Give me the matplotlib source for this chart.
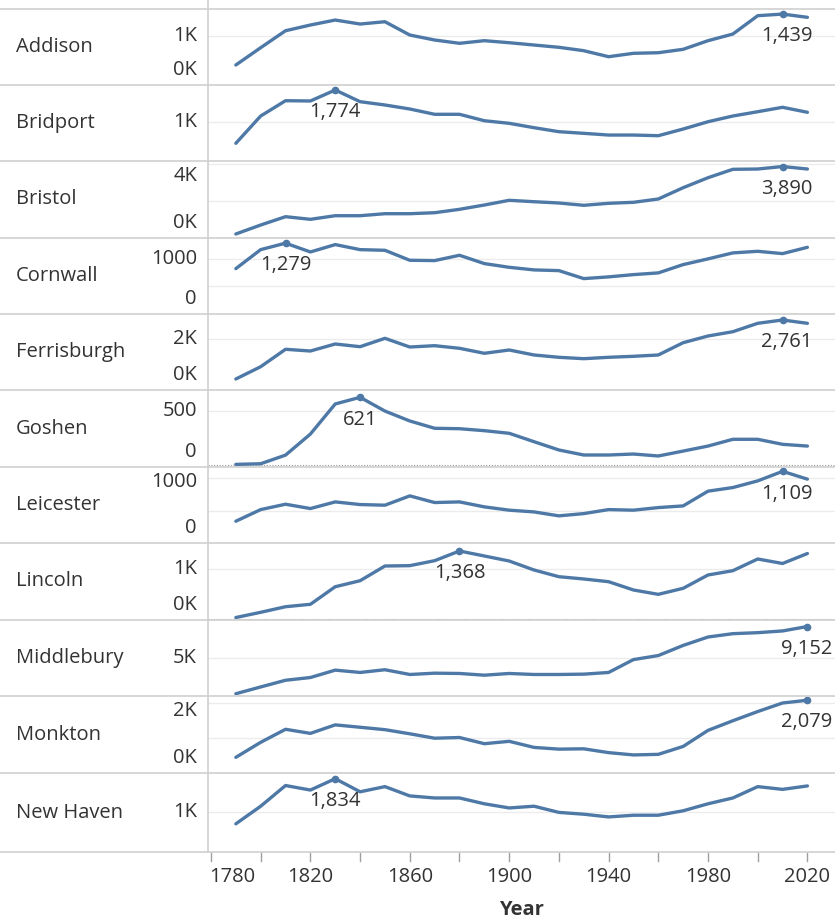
import matplotlib
matplotlib.use("Agg")
import matplotlib.pyplot as plt
from matplotlib.lines import Line2D
from matplotlib.transforms import blended_transform_factory

plt.rcParams['font.family'] = ['Open Sans', 'DejaVu Sans']

# ---------------- data ----------------
years = list(range(1790, 2030, 10))

towns = ["Addison", "Bridport", "Bristol", "Cornwall", "Ferrisburgh", "Goshen",
         "Leicester", "Lincoln", "Middlebury", "Monkton", "New Haven"]

addison = [406, 757, 1101, 1217, 1318, 1237, 1284, 1014, 913, 846, 899, 858,
           811, 765, 696, 574, 643, 655, 724, 899, 1034, 1406, 1439, 1373]
bridport = [497, 1151, 1518, 1511, 1774, 1494, 1415, 1319, 1192, 1192, 1038, 976,
            871, 775, 736, 695, 695, 679, 839, 1014, 1151, 1254, 1360, 1240]
bristol = [218, 707, 1160, 1017, 1213, 1213, 1322, 1322, 1376, 1561, 1795, 2051,
           1975, 1904, 1779, 1888, 1942, 2122, 2737, 3281, 3738, 3754, 3890, 3754]
cornwall = [819, 1162, 1279, 1120, 1253, 1162, 1150, 970, 964, 1060, 910, 843,
            796, 783, 639, 670, 711, 742, 892, 995, 1103, 1132, 1090, 1204]
ferrisburgh = [434, 919, 1606, 1538, 1815, 1708, 2039, 1696, 1748, 1645, 1448, 1578,
               1381, 1290, 1235, 1290, 1329, 1381, 1866, 2130, 2300, 2631, 2761, 2631]
goshen = [6, 12, 91, 284, 560, 621, 495, 404, 337, 333, 315, 291,
          214, 138, 92, 92, 101, 83, 128, 174, 236, 236, 190, 174]
leicester = [337, 517, 600, 533, 636, 595, 585, 729, 626, 636, 559, 508,
             481, 420, 455, 517, 508, 548, 574, 802, 858, 961, 1109, 988]
lincoln = [20, 126, 239, 288, 644, 766, 1064, 1071, 1172, 1368, 1267, 1165,
           983, 847, 801, 746, 578, 490, 612, 882, 969, 1206, 1115, 1317]
middlebury = [396, 1280, 2150, 2507, 3470, 3166, 3522, 2902, 3074, 3034, 2810, 3034,
              2902, 2902, 2946, 3166, 4842, 5369, 6689, 7784, 8219, 8351, 8575, 9152]
monkton = [447, 877, 1249, 1132, 1375, 1307, 1238, 1120, 994, 1014, 837, 905,
           731, 682, 691, 582, 516, 533, 759, 1218, 1493, 1756, 2000, 2079]
new_haven = [717, 1153, 1665, 1553, 1834, 1510, 1638, 1408, 1357, 1357, 1213, 1110,
             1153, 1000, 955, 888, 930, 930, 1040, 1213, 1357, 1638, 1570, 1655]

series = [addison, bridport, bristol, cornwall, ferrisburgh, goshen,
          leicester, lincoln, middlebury, monkton, new_haven]

# axis ranges and ticks per row
y_ranges = [(0, 1542), (73, 1894), (0, 4190), (0, 1372), (0, 2998), (-18, 688),
            (0, 1176), (-30, 1530), (100, 10000), (0, 2200), (20, 1975)]
y_ticks = [[0, 1000], [1000], [0, 4000], [0, 1000], [0, 2000], [0, 500],
           [0, 1000], [0, 1000], [5000], [0, 2000], [1000]]
y_ticklabels = [["0K", "1K"], ["1K"], ["0K", "4K"], ["0", "1000"], ["0K", "2K"], ["0", "500"],
                ["0", "1000"], ["0K", "1K"], ["5K"], ["0K", "2K"], ["1K"]]
y_minor = [[], [], [2000], [500], [], [], [500], [], [], [1000], []]
zero_dotted = [False, False, False, False, False, True, False, True, False, False, False]

x_ticks = list(range(1780, 2021, 20))
x_labels = list(range(1780, 2021, 40))

# ---------------- layout ----------------
W, H = 835, 919
fig = plt.figure(figsize=(W / 100, H / 100), dpi=100)
bounds = [9, 85, 161, 238, 314, 390, 467, 543, 620, 696, 773, 852]
ax_l, ax_r = 208, 835
xmin, xmax = 1778.8, 2031.1

blue = "#4e79a7"
txt = "#333333"
sep = "#cfcfcf"
fs = 14.5

def fy(p):
    return 1 - p / H

axes = []
for i, (name, vals) in enumerate(zip(towns, series)):
    top, bot = bounds[i], bounds[i + 1]
    ax = fig.add_axes([ax_l / W, fy(bot), (ax_r - ax_l) / W, (bot - top) / H])
    axes.append(ax)
    ax.set_xlim(xmin, xmax)
    ax.set_ylim(*y_ranges[i])
    for s in ax.spines.values():
        s.set_visible(False)
    ax.set_xticks([])
    ax.set_yticks([])
    ax.patch.set_alpha(0)

    # gridlines
    for t in y_ticks[i] + y_minor[i]:
        if t == 0 and zero_dotted[i]:
            continue
        ax.axhline(t, color="#ececec", lw=1.0, zorder=0)
    if zero_dotted[i]:
        ax.axhline(0, color="#9a9a9a", lw=0.8, ls=(0, (1, 1.5)), zorder=0)

    ax.plot(years, vals, color=blue, lw=2.4, solid_capstyle="round",
            solid_joinstyle="round", zorder=3)

    # max point + label
    imax = max(range(len(vals)), key=lambda k: vals[k])
    ax.plot([years[imax]], [vals[imax]], "o", color=blue, ms=4.5, zorder=4)
    if imax == len(vals) - 1:
        ax.annotate(f"{vals[imax]:,}", xy=(years[imax], vals[imax]),
                    xytext=(18, -16), textcoords="offset points",
                    ha="right", va="center", fontsize=fs, color=txt)
    else:
        dx = 3 if years[imax] == 2010 else 0
        ax.annotate(f"{vals[imax]:,}", xy=(years[imax], vals[imax]),
                    xytext=(dx, -16), textcoords="offset points",
                    ha="center", va="center", fontsize=fs, color=txt)

    # y tick labels, kept inside the pane
    h_px = bot - top
    lo, hi = y_ranges[i]
    m = 15.0 / h_px
    for t, lab in zip(y_ticks[i], y_ticklabels[i]):
        f = (t - lo) / (hi - lo)
        f = min(max(f, m), 1 - m)
        ax.text(-11.0 / (ax_r - ax_l), f, lab, transform=ax.transAxes,
                ha="right", va="center", fontsize=fs, color=txt)

    # row label
    fig.text(16 / W, fy((top + bot) / 2), name, ha="left", va="center",
             fontsize=fs, color=txt)

# separators
for b in bounds:
    fig.add_artist(Line2D([0, 1], [fy(b), fy(b)], transform=fig.transFigure,
                          color=sep, lw=1.2))
fig.add_artist(Line2D([ax_l / W, ax_l / W], [fy(0), fy(852)], transform=fig.transFigure,
                      color=sep, lw=1.2))

# x axis
last = axes[-1]
tr = blended_transform_factory(last.transData, fig.transFigure)
for t in x_ticks:
    last.add_artist(Line2D([t, t], [fy(853), fy(861)], transform=tr,
                           color="#a0a0a0", lw=1.0, clip_on=False))
for t in x_labels:
    if t == x_labels[0]:
        fig.text(ax_l / W + 0.001, fy(877), str(t), ha="left", va="center",
                 fontsize=fs, color=txt)
    else:
        last.text(t, fy(877), str(t), transform=tr, ha="center", va="center",
                  fontsize=fs, color=txt, clip_on=False)
fig.text((ax_l + ax_r) / 2 / W, fy(910), "Year", ha="center", va="center",
         fontsize=fs, fontweight="bold", color=txt)

fig.savefig("out.png", dpi=100)
